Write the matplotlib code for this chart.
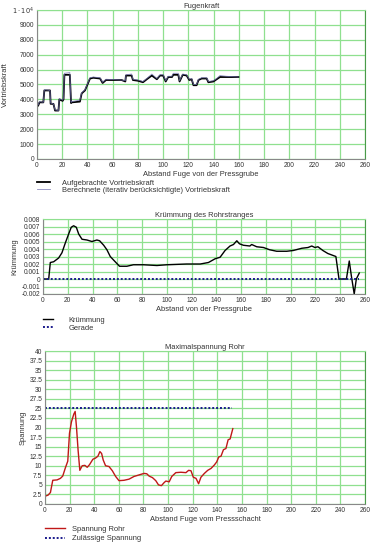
import numpy as np
import matplotlib
matplotlib.use("Agg")
import matplotlib.pyplot as plt
from matplotlib.ticker import MultipleLocator, FuncFormatter

plt.rcParams['font.family'] = ['Liberation Sans', 'DejaVu Sans']
plt.rcParams['axes.unicode_minus'] = False

# Fugenkraft
fuge_x = [0, 1, 2, 5, 5.8, 10.3, 10.8, 13, 14.3, 17, 17.7, 20.3, 21, 21.7, 26, 27, 27.5, 34,
          35.4, 38, 40, 42, 44.6, 50, 52, 54.7, 67, 70, 70.5, 75, 76, 80, 84, 87, 91, 95, 97.5,
          100, 102, 104, 107, 108, 112, 113, 115.5, 118.6, 120.7, 122.6, 124, 126.5, 128, 130.5,
          134.5, 135.8, 139.8, 142.4, 145, 150, 159.6]
kraft_auf = [3500, 3600, 3800, 3800, 4600, 4600, 3700, 3700, 3250, 3250, 4000, 3900, 4000, 5650, 5650,
             3750, 3800, 3850, 4400, 4600, 5000, 5400, 5450, 5400, 5100, 5300, 5300, 5200, 5600, 5600,
             5300, 5250, 5150, 5350, 5600, 5350, 5600, 5600, 5200, 5500, 5500, 5650, 5650, 5200, 5650,
             5600, 5300, 5350, 4950, 4950, 5300, 5400, 5400, 5150, 5200, 5350, 5500, 5500, 5500]
kraft_ber = [3550, 3650, 3850, 3800, 4650, 4600, 3750, 3700, 3300, 3250, 4050, 3950, 4050, 5750, 5800,
             3800, 3850, 3950, 4450, 4650, 5050, 5450, 5500, 5450, 5150, 5350, 5300, 5250, 5650, 5700,
             5350, 5300, 5200, 5400, 5700, 5400, 5650, 5650, 5250, 5550, 5550, 5750, 5750, 5250, 5700,
             5650, 5350, 5400, 5000, 5000, 5350, 5450, 5450, 5200, 5250, 5400, 5600, 5550, 5500]

# Kruemmung des Rohrstranges
kr_x = [0, 4.6, 5.9, 8.6, 12.6, 15.3, 18, 20.7, 22.8, 24.7, 26.9, 28.8, 31.5, 35.5, 39.5, 43.5,
        45.7, 49, 51.6, 54.3, 58.3, 61.8, 67.7, 73, 81, 92, 100, 116, 127, 133.6, 139, 143, 147,
        151, 153.8, 156.5, 158.6, 161.8, 167, 168.5, 172.6, 178, 183, 188.7, 196.8, 202, 209, 214,
        217, 219.6, 222, 226, 230, 236.5, 239, 245, 247.3, 249, 251.3, 253, 255.4]
kr_y = [0, 0, 0.0022, 0.0023, 0.0028, 0.0035, 0.0048, 0.006, 0.0069, 0.0071, 0.0069, 0.006, 0.0053,
        0.0052, 0.005, 0.0052, 0.0051, 0.0045, 0.0039, 0.003, 0.0023, 0.0017, 0.0017, 0.0019, 0.0019,
        0.0018, 0.0019, 0.002, 0.002, 0.0022, 0.0027, 0.0029, 0.0038, 0.0044, 0.0046, 0.0051, 0.0047,
        0.0045, 0.0044, 0.0046, 0.0043, 0.0042, 0.0039, 0.0037, 0.0037, 0.0038, 0.0041, 0.0042, 0.0044,
        0.0042, 0.0043, 0.0038, 0.0034, 0.003, 0, 0, 0.0024, 0.0004, -0.002, 0, 0.0008]
gerade_x = [0, 255]
gerade_y = [0, 0]

# Maximalspannung Rohr
sp_x = [0.5, 2.4, 4.4, 6.3, 9.8, 12.5, 14.4, 16.6, 18.5, 19.9, 21.5, 23.4, 24.5, 25.6, 26.9, 28.3,
        30.2, 32.4, 34.3, 36.2, 38.9, 41, 43, 44.6, 46, 47.3, 49.2, 52, 54.7, 57.4, 60.1, 64.2, 68.3,
        72.3, 76.4, 80.5, 82.7, 84.6, 87.3, 90, 92.2, 94.6, 96.8, 98.2, 100.9, 103, 106.3, 110.4,
        114.5, 116.7, 118.6, 120.5, 122.7, 124.8, 126.7, 129.5, 132.2, 134.9, 137.6, 139.5, 141.2,
        143, 145, 147, 148.8, 150.4, 152.6]
sp_y = [2.1, 2.3, 3.0, 6.2, 6.3, 6.7, 7.3, 9.5, 11.2, 18.5, 21.5, 23.5, 24.2, 20, 14, 8.8, 10, 10.1,
        9.6, 10.3, 11.7, 12, 12.5, 13.7, 13.2, 11.5, 10, 9.8, 8.7, 7.2, 6.1, 6.2, 6.5, 7.2, 7.6, 8.0,
        7.9, 7.3, 6.9, 6.1, 5.0, 4.8, 5.6, 6.0, 5.8, 7.2, 8.2, 8.3, 8.2, 8.8, 8.7, 7.0, 6.7, 5.3, 7.0,
        8.0, 8.8, 9.3, 10.2, 11, 12.3, 12.5, 14.2, 14.5, 16.8, 17, 19.7]
zul_x = [0, 152]
zul_y = [25, 25]

txt = '#333333'
grid_c = '#8fe08f'
fs_lab = 5.4
fs_tick = 4.8


def style(ax, ystep, ylim):
    ax.set_xlim(0, 260)
    ax.set_ylim(*ylim)
    ax.xaxis.set_major_locator(MultipleLocator(20))
    ax.yaxis.set_major_locator(MultipleLocator(ystep))
    ax.grid(True, color=grid_c, lw=0.9)
    ax.set_axisbelow(True)
    ax.tick_params(length=0, pad=2, labelsize=fs_tick, colors=txt)
    for s in ['left', 'bottom']:
        ax.spines[s].set_color('#888888')
    ax.spines['top'].set_color(grid_c)
    ax.spines['right'].set_color('#4a9a4a')
    for s in ax.spines.values():
        s.set_linewidth(0.8)


fig = plt.figure(figsize=(3.84, 5.6), dpi=100)

ax1 = fig.add_axes([0.0964, 0.7161, 0.8542, 0.2661])
ax1.plot(fuge_x, kraft_auf, color='black', lw=1.3, label='Aufgebrachte Vortriebskraft')
ax1.plot(fuge_x, kraft_ber, color='#7070b0', lw=0.6, alpha=0.8,
         label='Berechnete (iterativ berücksichtigte) Vortriebskraft')
style(ax1, 1000, (0, 10000))
ax1.yaxis.set_major_formatter(FuncFormatter(
    lambda v, p: r'$1\cdot10^4$' if v >= 10000 else '%d' % v))
ax1.set_title('Fugenkraft', fontsize=fs_lab, color=txt, pad=1.5)
ax1.set_xlabel('Abstand Fuge von der Pressgrube', fontsize=fs_lab, color=txt, labelpad=1.5)
ax1.set_ylabel('Vortriebskraft', fontsize=fs_lab, color=txt, labelpad=2)
ax1.legend(loc='upper left', bbox_to_anchor=(0, -0.14), frameon=False, fontsize=fs_lab,
           borderpad=0, borderaxespad=0, handlelength=1.75, handletextpad=1.6,
           labelspacing=-0.08, labelcolor=txt)

ax2 = fig.add_axes([0.112, 0.475, 0.8385, 0.1339])
ax2.plot(kr_x, kr_y, color='black', lw=1.0, label='Krümmung')
ax2.plot(gerade_x, gerade_y, color='#1a1a8c', lw=1.4, ls=(0, (1, 1)), label='Gerade')
style(ax2, 0.001, (-0.002, 0.008))
ax2.yaxis.set_major_formatter(FuncFormatter(lambda v, p: '%g' % round(v, 4)))
ax2.set_title('Krümmung des Rohrstranges', fontsize=fs_lab, color=txt, pad=1.5)
ax2.set_xlabel('Abstand von der Pressgrube', fontsize=fs_lab, color=txt, labelpad=1.5)
ax2.set_ylabel('Krümmung', fontsize=fs_lab, color=txt, labelpad=2)
ax2.legend(loc='upper left', bbox_to_anchor=(0, -0.3), frameon=False, fontsize=fs_lab,
           borderpad=0, borderaxespad=0, handlelength=1.35, handletextpad=2.0,
           labelspacing=0.1, labelcolor=txt)

ax3 = fig.add_axes([0.1172, 0.1, 0.8333, 0.2732])
ax3.plot(sp_x, sp_y, color='#c01818', lw=1.0, label='Spannung Rohr')
ax3.plot(zul_x, zul_y, color='#1a1a8c', lw=1.4, ls=(0, (1, 1)), label='Zulässige Spannung')
style(ax3, 2.5, (0, 40))
ax3.yaxis.set_major_formatter(FuncFormatter(lambda v, p: '%g' % v))
ax3.set_title('Maximalspannung Rohr', fontsize=fs_lab, color=txt, pad=1.5)
ax3.set_xlabel('Abstand Fuge vom Pressschacht', fontsize=fs_lab, color=txt, labelpad=1.5)
ax3.set_ylabel('Spannung', fontsize=fs_lab, color=txt, labelpad=2)
ax3.legend(loc='upper left', bbox_to_anchor=(0, -0.14), frameon=False, fontsize=fs_lab,
           borderpad=0, borderaxespad=0, handlelength=2.7, handletextpad=0.95,
           labelspacing=0.3, labelcolor=txt)

fig.savefig('out.png', dpi=100, facecolor='white')
